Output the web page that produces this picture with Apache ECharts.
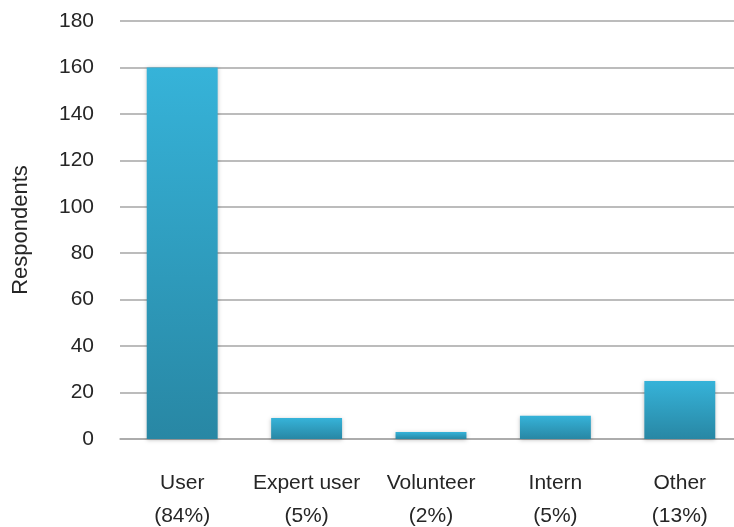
<!DOCTYPE html>
<html>
<head>
<meta charset="utf-8">
<script src="https://cdn.jsdelivr.net/npm/echarts@6/dist/echarts.min.js"></script>
<style>
  html, body { margin: 0; padding: 0; background: #fff; }
  #chart { width: 734px; height: 527px; }
</style>
</head>
<body>
<div id="chart"></div>
<script>
const categories = ['User\n(84%)', 'Expert user\n(5%)', 'Volunteer\n(2%)', 'Intern\n(5%)', 'Other\n(13%)']
const respondents = [160, 9, 3, 10, 25]
const yTicks = { min: 0, max: 180, interval: 20 }

const myChart = echarts.init(document.getElementById('chart'))

const font = 'Liberation Sans, Arial, sans-serif'

const option = {
    animation: false,
    grid: {
        left: 120,
        top: 21,
        width: 622,
        height: 418,
        outerBoundsMode: 'none',
        containLabel: false
    },
    xAxis: {
        type: 'category',
        data: categories,
        axisTick: { show: false },
        axisLine: { lineStyle: { color: '#a6a6a6', width: 1.5 } },
        axisLabel: {
            fontFamily: font,
            fontSize: 21,
            lineHeight: 33,
            color: '#262626',
            margin: 28,
            interval: 0
        }
    },
    yAxis: {
        type: 'value',
        min: yTicks.min,
        max: yTicks.max,
        interval: yTicks.interval,
        name: 'Respondents',
        nameLocation: 'middle',
        nameGap: 88,
        nameTextStyle: {
            fontFamily: font,
            fontSize: 22,
            color: '#262626'
        },
        axisLine: { show: false },
        axisTick: { show: false },
        axisLabel: {
            fontFamily: font,
            fontSize: 21,
            color: '#262626',
            margin: 26
        },
        splitLine: { lineStyle: { color: '#a6a6a6', width: 1.5 } }
    },
    series: [
        {
            name: 'Respondents',
            type: 'bar',
            data: respondents,
            barWidth: '57%',
            itemStyle: {
                color: new echarts.graphic.LinearGradient(0, 0, 0, 1, [
                    { offset: 0, color: '#36b3d9' },
                    { offset: 1, color: '#2887a4' }
                ]),
                shadowBlur: 4,
                shadowColor: 'rgba(0,0,0,0.25)',
                shadowOffsetY: 1
            }
        }
    ]
}

myChart.setOption(option)
</script>
</body>
</html>
